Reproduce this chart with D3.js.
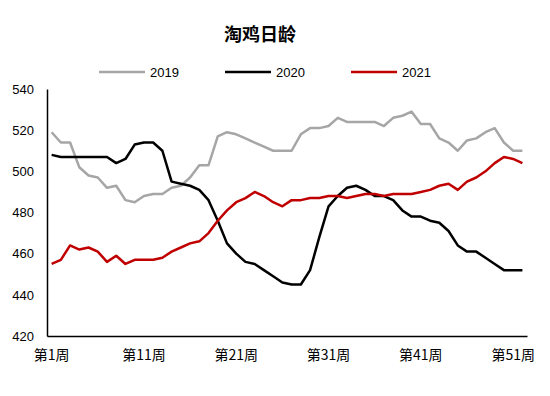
<!DOCTYPE html>
<html>
<head>
<meta charset="utf-8">
<script src="https://cdnjs.cloudflare.com/ajax/libs/d3/7.8.5/d3.min.js"></script>
<style>
  body { margin: 0; background: #fff; }
  text { font-family: "Liberation Sans", Arial, sans-serif; fill: #000; }
  .cjk { font-family: "Noto Sans CJK SC", "Liberation Sans", sans-serif; }
</style>
</head>
<body>
<div id="chart"></div>
<script>
// weekly data
var weeks = d3.range(1, 53);
var tickWeeks = [1, 11, 21, 31, 41, 51];
var yTicks = [420, 440, 460, 480, 500, 520, 540];
var seriesNames = ["2019", "2020", "2021"];
var seriesColors = ["#a6a6a6", "#000000", "#c00000"];

var y2019 = [519, 514, 514, 502, 498, 497, 492, 493, 486, 485,
  488, 489, 489, 492, 493, 497, 503, 503, 517, 519,
  518, 516, 514, 512, 510, 510, 510, 518, 521, 521,
  522, 526, 524, 524, 524, 524, 522, 526, 527, 529,
  523, 523, 516, 514, 510, 515, 516, 519, 521, 514, 510, 510];
var y2020 = [508, 507, 507, 507, 507, 507, 507, 504, 506, 513,
  514, 514, 510, 495, 494, 493, 491, 486, 476, 465,
  460, 456, 455, 452, 449, 446, 445, 445, 452, 468,
  483, 488, 492, 493, 491, 488, 488, 486, 481, 478,
  478, 476, 475, 471, 464, 461, 461, 458, 455, 452, 452, 452];
var y2021 = [455, 457, 464, 462, 463, 461, 456, 459, 455, 457,
  457, 457, 458, 461, 463, 465, 466, 470, 476, 481,
  485, 487, 490, 488, 485, 483, 486, 486, 487, 487,
  488, 488, 487, 488, 489, 489, 488, 489, 489, 489,
  490, 491, 493, 494, 491, 495, 497, 500, 504, 507, 506, 504];

var svgWidth = 550;
var svgHeight = 396;

var margin = { top: 89, right: 23, bottom: 60, left: 47 };
var width = svgWidth - margin.left - margin.right;
var height = svgHeight - margin.top - margin.bottom;

var svg = d3.select("#chart")
  .append("svg")
  .attr("width", svgWidth)
  .attr("height", svgHeight);

var chartGroup = svg.append("g")
  .attr("transform", `translate(${margin.left}, ${margin.top})`);

// scales
var xBand = d3.scaleBand()
  .domain(weeks)
  .range([0, width])
  .padding(0);
var xPos = d => xBand(d) + xBand.bandwidth() / 2;

var yLinearScale = d3.scaleLinear()
  .domain([420, 540])
  .range([height, 0]);

// title
svg.append("text")
  .attr("class", "cjk")
  .attr("x", 260)
  .attr("y", 33)
  .attr("text-anchor", "middle")
  .attr("dominant-baseline", "central")
  .attr("font-size", 18)
  .attr("font-weight", "bold")
  .text("淘鸡日龄");

// legend
var legendX = [99, 225, 351];
var legend = svg.selectAll(".legend")
  .data(seriesNames)
  .enter()
  .append("g")
  .attr("class", "legend")
  .attr("transform", (d, i) => `translate(${legendX[i]}, 72)`);

legend.append("line")
  .attr("x1", 0)
  .attr("x2", 46)
  .attr("stroke", (d, i) => seriesColors[i])
  .attr("stroke-width", 2.5);

legend.append("text")
  .attr("x", 51)
  .attr("dominant-baseline", "central")
  .attr("font-size", 13)
  .text(d => d);

// axes
var bottomAxis = d3.axisBottom(xBand)
  .tickValues(tickWeeks)
  .tickSize(0)
  .tickPadding(14)
  .tickFormat(d => `第${d}周`);

var leftAxis = d3.axisLeft(yLinearScale)
  .tickValues(yTicks)
  .tickSize(0)
  .tickPadding(13);

var xAxis = chartGroup.append("g")
  .attr("transform", `translate(0, ${height})`)
  .call(bottomAxis);
xAxis.select(".domain").attr("stroke", "#000").attr("stroke-width", 1.5);
xAxis.selectAll("text")
  .attr("class", "cjk")
  .attr("font-size", 14)
  .attr("fill", "#000");

var yAxis = chartGroup.append("g")
  .call(leftAxis);
yAxis.select(".domain").attr("stroke", "#000").attr("stroke-width", 1.5);
yAxis.selectAll("text")
  .attr("font-family", "Liberation Sans, Arial, sans-serif")
  .attr("font-size", 13)
  .attr("fill", "#000");

// lines
var allSeries = [y2019, y2020, y2021];
var lineGen = d3.line()
  .x((d, i) => xPos(weeks[i]))
  .y(d => yLinearScale(d));

chartGroup.selectAll(".series")
  .data(allSeries)
  .enter()
  .append("path")
  .attr("class", "series")
  .attr("d", d => lineGen(d))
  .attr("fill", "none")
  .attr("stroke", (d, i) => seriesColors[i])
  .attr("stroke-width", 2.5)
  .attr("stroke-linejoin", "round");
</script>
</body>
</html>
